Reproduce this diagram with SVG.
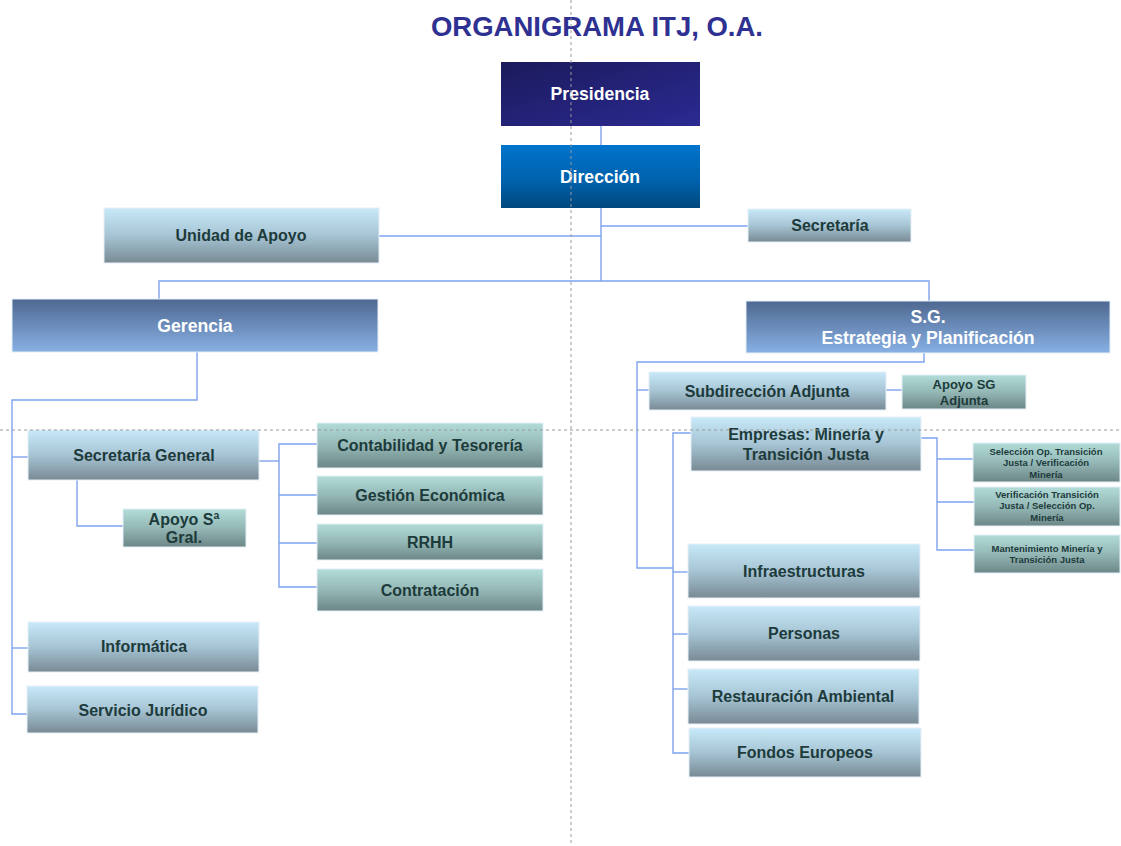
<svg xmlns="http://www.w3.org/2000/svg" width="1121" height="846" viewBox="0 0 1121 846">
<defs>
<linearGradient id="gPres" x1="0" y1="0" x2="1" y2="1"><stop offset="0" stop-color="#1b1a5c"/><stop offset="1" stop-color="#2b2a92"/></linearGradient>
<linearGradient id="gDir" x1="0" y1="0" x2="0" y2="1"><stop offset="0" stop-color="#0074cc"/><stop offset="0.6" stop-color="#0060aa"/><stop offset="1" stop-color="#00477c"/></linearGradient>
<linearGradient id="gMid" x1="0" y1="0" x2="0" y2="1"><stop offset="0" stop-color="#4e6890"/><stop offset="1" stop-color="#88b0e4"/></linearGradient>
<linearGradient id="gBlue" x1="0" y1="0" x2="0" y2="1"><stop offset="0" stop-color="#c8e9f9"/><stop offset="0.5" stop-color="#a6c4d4"/><stop offset="1" stop-color="#788a94"/></linearGradient>
<linearGradient id="gTeal" x1="0" y1="0" x2="0" y2="1"><stop offset="0" stop-color="#b2dcd8"/><stop offset="0.5" stop-color="#94b8b6"/><stop offset="1" stop-color="#6c8686"/></linearGradient>
</defs>
<style>
.dark{font-family:"Liberation Sans",Arial,sans-serif;font-weight:bold;fill:#1d3b3b;text-anchor:middle}
.light{font-family:"Liberation Sans",Arial,sans-serif;font-weight:bold;fill:#ffffff;text-anchor:middle}
.b{fill:url(#gBlue);stroke:#e4eff6;stroke-width:1}
.t{fill:url(#gTeal);stroke:#e4eff6;stroke-width:1}
.conn{fill:none;stroke:#7ea3f0;stroke-width:1.4}
.guide{stroke:#9a9a9a;stroke-width:1;stroke-dasharray:3 3;fill:none}
</style>
<rect width="1121" height="846" fill="#ffffff"/>
<text x="597" y="36" font-family="Liberation Sans,Arial,sans-serif" font-weight="bold" font-size="27.5" fill="#2e3192" text-anchor="middle">ORGANIGRAMA ITJ, O.A.</text>

<g id="connectors">
<path class="conn" d="M601 126V145"/>
<path class="conn" d="M601 208V281"/>
<path class="conn" d="M379 236H601"/>
<path class="conn" d="M601 226H748"/>
<path class="conn" d="M159 300V281H929V301"/>
<path class="conn" d="M197 352V400H12V714H27"/>
<path class="conn" d="M12 457H28"/>
<path class="conn" d="M12 648H28"/>
<path class="conn" d="M259 461H279"/>
<path class="conn" d="M317 444H279V587H317"/>
<path class="conn" d="M279 495H317"/>
<path class="conn" d="M279 543H317"/>
<path class="conn" d="M77 480V526H123"/>
<path class="conn" d="M924 353V362H637V568H673"/>
<path class="conn" d="M637 390H649"/>
<path class="conn" d="M886 390H902"/>
<path class="conn" d="M691 433H673V753H689"/>
<path class="conn" d="M673 572H688"/>
<path class="conn" d="M673 634H688"/>
<path class="conn" d="M673 689H688"/>
<path class="conn" d="M921 438H937V550H974"/>
<path class="conn" d="M937 459H973"/>
<path class="conn" d="M937 502H974"/>
</g>

<g id="presidencia"><rect x="501" y="62" width="199" height="64" fill="url(#gPres)"/><text class="light" x="600" y="100" font-size="17.6">Presidencia</text></g>
<g id="direccion"><rect x="501" y="145" width="199" height="63" fill="url(#gDir)"/><text class="light" x="600" y="183" font-size="17.6">Dirección</text></g>
<g id="unidad-apoyo"><rect class="b" x="104" y="208" width="275" height="55"/><text class="dark" x="241" y="241" font-size="16">Unidad de Apoyo</text></g>
<g id="secretaria"><rect class="b" x="748" y="209" width="163" height="33"/><text class="dark" x="830" y="231" font-size="16">Secretaría</text></g>
<g id="gerencia"><rect x="12" y="299" width="366" height="53" fill="url(#gMid)" stroke="#e4eff6"/><text class="light" x="195" y="332" font-size="17.6">Gerencia</text></g>
<g id="sg-estrategia"><rect x="746" y="301" width="364" height="52" fill="url(#gMid)" stroke="#e4eff6"/><text class="light" x="928" y="323" font-size="17.6">S.G.</text><text class="light" x="928" y="344" font-size="17.6">Estrategia y Planificación</text></g>

<g id="secretaria-general"><rect class="b" x="28" y="430" width="231" height="50"/><text class="dark" x="144" y="461" font-size="16">Secretaría General</text></g>
<g id="apoyo-sa-gral"><rect class="t" x="123" y="509" width="123" height="38"/><text class="dark" x="184" y="525" font-size="16">Apoyo Sª</text><text class="dark" x="184" y="543" font-size="16">Gral.</text></g>
<g id="contabilidad"><rect class="t" x="317" y="423" width="226" height="45"/><text class="dark" x="430" y="451" font-size="16">Contabilidad y Tesorería</text></g>
<g id="gestion-economica"><rect class="t" x="317" y="476" width="226" height="39"/><text class="dark" x="430" y="501" font-size="16">Gestión Económica</text></g>
<g id="rrhh"><rect class="t" x="317" y="524" width="226" height="36"/><text class="dark" x="430" y="548" font-size="16">RRHH</text></g>
<g id="contratacion"><rect class="t" x="317" y="569" width="226" height="42"/><text class="dark" x="430" y="596" font-size="16">Contratación</text></g>
<g id="informatica"><rect class="b" x="28" y="622" width="231" height="50"/><text class="dark" x="144" y="652" font-size="16">Informática</text></g>
<g id="servicio-juridico"><rect class="b" x="27" y="686" width="231" height="47"/><text class="dark" x="143" y="716" font-size="16">Servicio Jurídico</text></g>

<g id="subdireccion-adjunta"><rect class="b" x="649" y="372" width="237" height="38"/><text class="dark" x="767" y="397" font-size="16">Subdirección Adjunta</text></g>
<g id="apoyo-sg-adjunta"><rect class="t" x="902" y="375" width="124" height="34"/><text class="dark" x="964" y="389" font-size="13">Apoyo SG</text><text class="dark" x="964" y="405" font-size="13">Adjunta</text></g>
<g id="empresas"><rect class="b" x="691" y="417" width="230" height="54"/><text class="dark" x="806" y="440" font-size="16">Empresas: Minería y</text><text class="dark" x="806" y="460" font-size="16">Transición Justa</text></g>
<g id="seleccion"><rect class="t" x="973" y="443" width="147" height="39"/><text class="dark" x="1046" y="455" font-size="9.5">Selección Op. Transición</text><text class="dark" x="1046" y="466" font-size="9.5">Justa / Verificación</text><text class="dark" x="1046" y="478" font-size="9.5">Minería</text></g>
<g id="verificacion"><rect class="t" x="974" y="487" width="146" height="39"/><text class="dark" x="1047" y="498" font-size="9.5">Verificación Transición</text><text class="dark" x="1047" y="509" font-size="9.5">Justa / Selección Op.</text><text class="dark" x="1047" y="521" font-size="9.5">Minería</text></g>
<g id="mantenimiento"><rect class="t" x="974" y="535" width="146" height="38"/><text class="dark" x="1047" y="552" font-size="9.5">Mantenimiento Minería y</text><text class="dark" x="1047" y="563" font-size="9.5">Transición Justa</text></g>
<g id="infraestructuras"><rect class="b" x="688" y="544" width="232" height="54"/><text class="dark" x="804" y="577" font-size="16">Infraestructuras</text></g>
<g id="personas"><rect class="b" x="688" y="606" width="232" height="55"/><text class="dark" x="804" y="639" font-size="16">Personas</text></g>
<g id="restauracion"><rect class="b" x="688" y="669" width="231" height="55"/><text class="dark" x="803" y="702" font-size="16">Restauración Ambiental</text></g>
<g id="fondos"><rect class="b" x="689" y="728" width="232" height="49"/><text class="dark" x="805" y="758" font-size="16">Fondos Europeos</text></g>

<path class="guide" d="M571 0V846"/>
<path class="guide" d="M0 430H1121"/>
</svg>
